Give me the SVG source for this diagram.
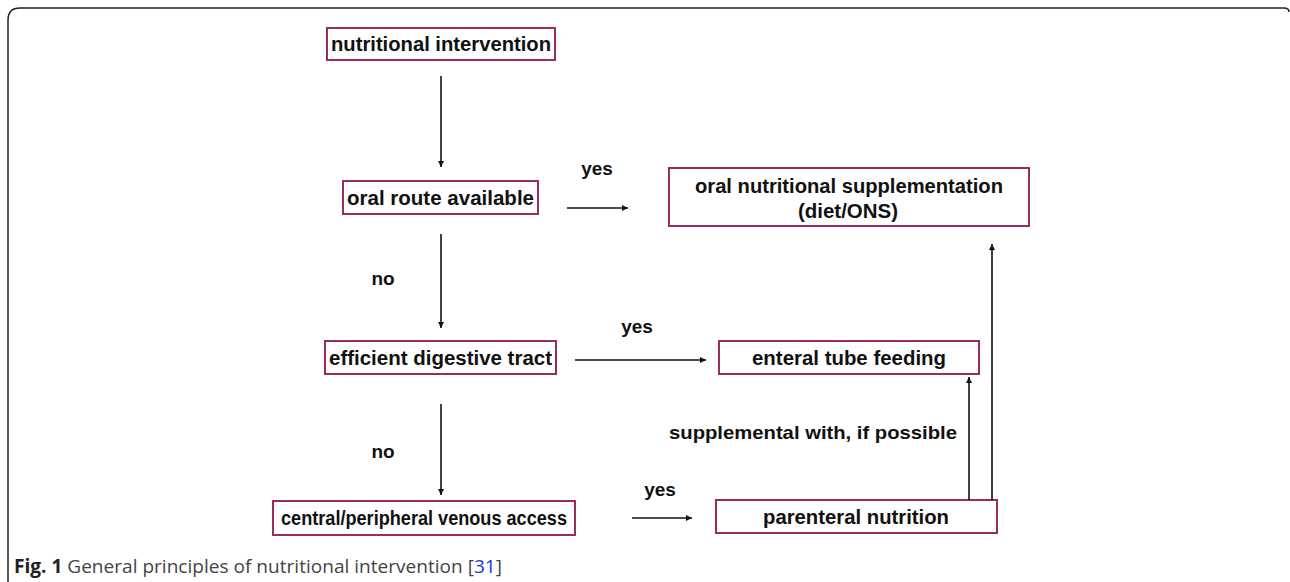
<svg xmlns="http://www.w3.org/2000/svg" width="1290" height="582" viewBox="0 0 1290 582">
<defs>
<marker id="ah" viewBox="0 0 10 10" refX="10" refY="5" markerWidth="6" markerHeight="6" markerUnits="userSpaceOnUse" orient="auto">
<path d="M0,0 L10,5 L0,10 z" fill="#111"/>
</marker>
<style>
.box{fill:#fff;stroke:#9b2a5e;stroke-width:2}
.t{font-family:"Liberation Sans",Arial,sans-serif;font-weight:bold;font-size:20px;fill:#111;text-anchor:middle}
.lbl{font-family:"Liberation Sans",Arial,sans-serif;font-weight:bold;font-size:19px;fill:#111;text-anchor:middle}
.c{stroke:#111;stroke-width:1.6;fill:none;marker-end:url(#ah)}
.cap{font-family:"Open Sans",sans-serif;font-size:19px;fill:#444}
</style>
</defs>
<rect width="1290" height="582" fill="#fff"/>
<path d="M8,595 L8,20 Q8,8 20,8 L1284,8 Q1289,8 1289,12" fill="none" stroke="#222" stroke-width="1.5"/>

<g id="n1"><rect class="box" x="327" y="28" width="228" height="32"/><text class="t" x="441" y="51" textLength="220" lengthAdjust="spacingAndGlyphs">nutritional intervention</text></g>
<g id="n2"><rect class="box" x="343" y="181" width="195" height="33"/><text class="t" x="440.5" y="205" textLength="187" lengthAdjust="spacingAndGlyphs">oral route available</text></g>
<g id="n3"><rect class="box" x="669" y="168" width="360" height="58"/><text class="t" x="849" y="193" textLength="308" lengthAdjust="spacingAndGlyphs">oral nutritional supplementation</text><text class="t" x="848" y="218" textLength="100" lengthAdjust="spacingAndGlyphs">(diet/ONS)</text></g>
<g id="n4"><rect class="box" x="325" y="341" width="231" height="33"/><text class="t" x="440.5" y="365" textLength="223" lengthAdjust="spacingAndGlyphs">efficient digestive tract</text></g>
<g id="n5"><rect class="box" x="719" y="341" width="260" height="33"/><text class="t" x="849" y="365" textLength="194" lengthAdjust="spacingAndGlyphs">enteral tube feeding</text></g>
<g id="n6"><rect class="box" x="273" y="501" width="302" height="34"/><text class="t" x="424" y="525" textLength="286" lengthAdjust="spacingAndGlyphs">central/peripheral venous access</text></g>
<g id="n7"><rect class="box" x="716" y="500" width="281" height="33"/><text class="t" x="856" y="524" textLength="186" lengthAdjust="spacingAndGlyphs">parenteral nutrition</text></g>

<g id="connectors">
<line class="c" x1="441" y1="76" x2="441" y2="167"/>
<line class="c" x1="567" y1="208" x2="628" y2="208"/>
<line class="c" x1="441" y1="234" x2="441" y2="328"/>
<line class="c" x1="575" y1="360" x2="706" y2="360"/>
<line class="c" x1="441" y1="404" x2="441" y2="495"/>
<line class="c" x1="632" y1="518" x2="692" y2="518"/>
<line class="c" x1="969" y1="500" x2="969" y2="377"/>
<line class="c" x1="992" y1="500" x2="992" y2="244"/>
<text class="lbl" x="597" y="175">yes</text>
<text class="lbl" x="383" y="285">no</text>
<text class="lbl" x="637" y="333">yes</text>
<text class="lbl" x="383" y="458">no</text>
<text class="lbl" x="660" y="496">yes</text>
<text class="lbl" x="813" y="439" textLength="288" lengthAdjust="spacingAndGlyphs">supplemental with, if possible</text>
</g>

<text class="cap" x="14" y="573" textLength="488" lengthAdjust="spacingAndGlyphs"><tspan font-weight="bold" fill="#222">Fig. 1</tspan> General principles of nutritional intervention [<tspan fill="#2233dd">31</tspan>]</text>
</svg>
